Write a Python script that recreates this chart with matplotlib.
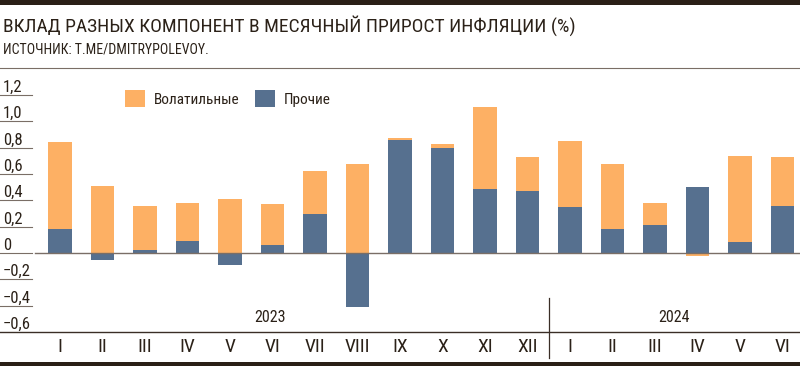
import numpy as np
import matplotlib
matplotlib.use('Agg')
import matplotlib.pyplot as plt
from matplotlib.patches import Rectangle
from matplotlib.lines import Line2D
import matplotlib.transforms as mtransforms

plt.rcParams['font.family'] = ['Roboto Condensed', 'DejaVu Sans']

months = ['I', 'II', 'III', 'IV', 'V', 'VI', 'VII', 'VIII', 'IX', 'X', 'XI', 'XII',
          'I', 'II', 'III', 'IV', 'V', 'VI']
years = ['2023', '2024']
volatile = [0.66, 0.51, 0.34, 0.29, 0.41, 0.31, 0.32, 0.68, 0.01, 0.03, 0.62, 0.26,
            0.50, 0.50, 0.17, -0.02, 0.66, 0.37]
other = [0.18, -0.05, 0.02, 0.09, -0.09, 0.06, 0.30, -0.41, 0.86, 0.80, 0.49, 0.47,
         0.35, 0.18, 0.21, 0.50, 0.08, 0.36]
yticks = [-0.6, -0.4, -0.2, 0, 0.2, 0.4, 0.6, 0.8, 1.0, 1.2]

ORANGE = '#fdb064'
BLUE = '#56708f'
TEXT = '#2b2118'
LINE = '#7a6e66'

fig = plt.figure(figsize=(8, 3.66), dpi=100)
ax = fig.add_axes([0, 34 / 366, 1, 258 / 366])

x = np.arange(len(months))
vol = np.array(volatile)
oth = np.array(other)
vol_bottom = np.where(vol >= 0, np.maximum(oth, 0), np.minimum(oth, 0))

ax.bar(x, oth, width=0.55, color=BLUE, label='Прочие', zorder=2)
ax.bar(x, vol, width=0.55, bottom=vol_bottom, color=ORANGE, label='Волатильные', zorder=2)

ax.set_xlim(-1.41, 17.41)
ax.set_ylim(-0.6, 1.36)
ax.axis('off')

# zero line and short tick lines on the left
ax.axhline(0, xmin=35 / 800, xmax=1, color=LINE, lw=1, zorder=3)
ax.axhline(-0.6, color='#3a2e26', lw=1, clip_on=False)
trans = mtransforms.blended_transform_factory(ax.transAxes, ax.transData)
for t in yticks:
    if t != -0.6:
        ax.plot([0, 32 / 800], [t, t], transform=trans, color=LINE, lw=0.8)
    label = ('%.1f' % t).replace('.', ',').replace('-', '\u2212')
    if t == 0:
        label = '0'
    ax.text(3 / 800, t + 0.025, label, transform=trans, ha='left', va='baseline',
            fontsize=12, color=TEXT)

# month and year labels
for i, m in enumerate(months):
    ax.text(i, -0.716, m, ha='center', va='center', fontsize=14, color=TEXT, clip_on=False)
ax.text(4.95, -0.488, years[0], ha='center', va='center', fontsize=11.5, color=TEXT)
ax.text(14.45, -0.488, years[1], ha='center', va='center', fontsize=11.5, color=TEXT)
ax.plot([11.5, 11.5], [-0.344, -0.797], color='#3a2e26', lw=0.9, clip_on=False)

# legend
handles, labels = ax.get_legend_handles_labels()
ax.legend(handles[::-1], labels[::-1], loc='upper left', bbox_to_anchor=(111 / 800, 0.99),
          ncol=2, frameon=False, fontsize=11, handlelength=1.3, handleheight=1.3,
          columnspacing=1.0, handletextpad=0.6, labelcolor=TEXT)

# header
fig.add_artist(Rectangle((0, 1 - 5 / 366), 1, 5 / 366, transform=fig.transFigure,
                         color='#2a1f16', lw=0))
fig.add_artist(Rectangle((0, 0), 1, 4 / 366, transform=fig.transFigure,
                         color='#2a1f16', lw=0))
fig.add_artist(Line2D([0, 1], [1 - 68 / 366, 1 - 68 / 366], transform=fig.transFigure,
                      color=LINE, lw=0.8))
fig.text(3 / 800, 1 - 26 / 366, 'ВКЛАД РАЗНЫХ КОМПОНЕНТ В МЕСЯЧНЫЙ ПРИРОСТ ИНФЛЯЦИИ (%)',
         ha='left', va='center', fontsize=14, color=TEXT)
fig.text(3 / 800, 1 - 49 / 366, 'ИСТОЧНИК: T.ME/DMITRYPOLEVOY.',
         ha='left', va='center', fontsize=10, color=TEXT)

fig.savefig('out.png', dpi=100, facecolor='white')
